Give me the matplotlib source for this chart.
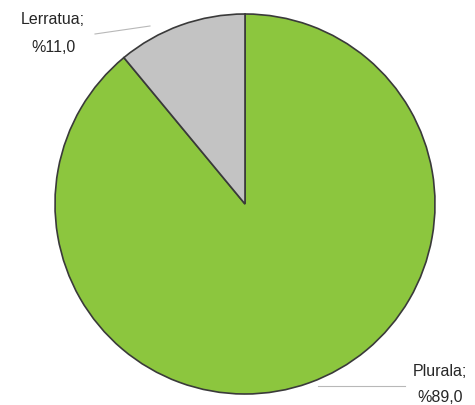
import matplotlib
matplotlib.use("Agg")
import matplotlib.pyplot as plt
import numpy as np

categories = ["Plurala", "Lerratua"]
values = [89.0, 11.0]
colors = ["#8cc63e", "#c3c3c3"]

W, H = 475, 406
fig = plt.figure(figsize=(W/100, H/100), dpi=100)
cx, cy, r = 245, 205, 190
ax = fig.add_axes([(cx - r)/W, (H - cy - r)/H, 2*r/W, 2*r/H])
ax.pie(values, colors=colors, startangle=90, counterclock=False,
       wedgeprops=dict(edgecolor="#3a3a3a", linewidth=1.2))
ax.set_xlim(-1, 1)
ax.set_ylim(-1, 1)
ax.set_aspect("auto")
ax.axis("off")

def px(x, y):
    return (x / W, 1 - y / H)

# leader lines
fig.add_artist(plt.Line2D([95/W, 150/W], [1-35/H, 1-27/H], color="#b8b8b8", lw=0.8))
fig.add_artist(plt.Line2D([318/W, 405/W], [1-387/H, 1-387/H], color="#b8b8b8", lw=0.8))

style = dict(ha="center", va="center", fontsize=11.5, family="Liberation Sans",
             color="#262626")
lab = [(440, 371, 398), (53, 19, 47)]
for (c, v), (x, y1, y2) in zip(zip(categories, values), lab):
    fig.text(*px(x, y1), f"{c};", **style)
    fig.text(*px(x, y2), f"%{v:.1f}".replace(".", ","), **style)

fig.savefig("out.png", dpi=100)
